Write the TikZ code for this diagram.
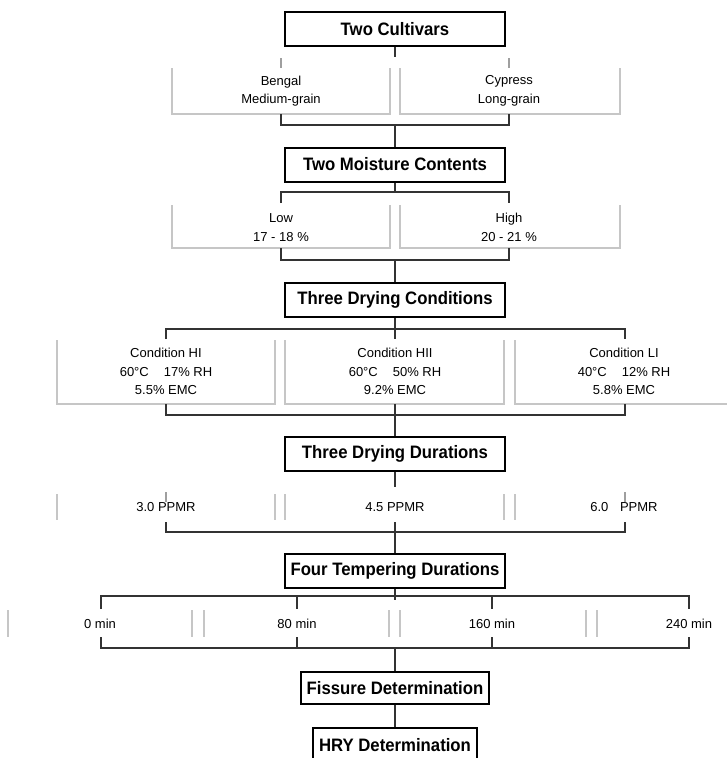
\documentclass[tikz,border=0pt]{standalone}
\usepackage{fontspec}
\setmainfont{Liberation Sans}
\newfontfamily\tfont[FakeStretch=0.93]{Liberation Sans Bold}
\begin{document}
\begin{tikzpicture}[x=1pt,y=-1pt,
  title/.style={draw=black, line width=2pt, minimum width=220pt, minimum height=34pt, inner sep=0pt, font=\tfont\fontsize{18}{20}\selectfont},
  titlethin/.style={title, line width=1.2pt},
  lbl/.style={align=center, inner sep=0pt, font=\fontsize{13}{18.5}\selectfont},
  graybox/.style={draw=gray!45, line width=1.3pt},
  conn/.style={draw=black!80, line width=1.3pt},
  tickl/.style={draw=gray!75, line width=1.2pt}]
\useasboundingbox (0,0) rectangle (727,758);

% ---------- Level 1: cultivars ----------
\node[title] (tc) at (395,29) {Two Cultivars};
\draw[graybox] (172,68) -- (172,114) -- (390,114) -- (390,68);
\draw[graybox] (400,68) -- (400,114) -- (620,114) -- (620,68);
\node[lbl] (bengal) at (281,91) {Bengal\\Medium-grain};
\node[lbl] (cypress) at (509,91) {Cypress\\Long-grain};
\coordinate (c1) at (395,57);
\coordinate (t1a) at (281,58); \coordinate (t1b) at (281,68);
\coordinate (t1c) at (509,58); \coordinate (t1d) at (509,68);
\draw[conn] (tc.south) -- (c1);
\draw[tickl] (t1a) -- (t1b);
\draw[tickl] (t1c) -- (t1d);
\coordinate (b1l) at (281,114); \coordinate (b1r) at (509,114); \coordinate (b1c) at (395,125);
\draw[conn] (b1l) -- (281,125) -- (509,125) -- (b1r);

% ---------- Level 2: moisture ----------
\node[title] (tm) at (395,164.5) {Two Moisture Contents};
\draw[conn] (b1c) -- (tm.north);
\coordinate (c2) at (395,192);
\draw[conn] (tm.south) -- (c2);
\draw[conn] (281,203) -- (281,192) -- (509,192) -- (509,203);
\draw[graybox] (172,205) -- (172,248) -- (390,248) -- (390,205);
\draw[graybox] (400,205) -- (400,248) -- (620,248) -- (620,205);
\node[lbl] (low) at (281,227.5) {Low\\17 - 18 \%};
\node[lbl] (high) at (509,227.5) {High\\20 - 21 \%};
\coordinate (b2c) at (395,260);
\draw[conn] (281,248) -- (281,260) -- (509,260) -- (509,248);

% ---------- Level 3: drying conditions ----------
\node[title] (tdc) at (395,300) {Three Drying Conditions};
\draw[conn] (b2c) -- (tdc.north);
\coordinate (c3) at (395,339);
\draw[conn] (tdc.south) -- (c3);
\draw[conn] (166,339) -- (166,329) -- (625,329) -- (625,339);
\draw[graybox] (57,340) -- (57,404) -- (275,404) -- (275,340);
\draw[graybox] (285,340) -- (285,404) -- (504,404) -- (504,340);
\draw[graybox] (515,340) -- (515,404) -- (740,404);
\node[lbl] (chi) at (166,371.5) {Condition HI\\60°C\hspace{15pt}17\% RH\\5.5\% EMC};
\node[lbl] (chii) at (395,371.5) {Condition HII\\60°C\hspace{15pt}50\% RH\\9.2\% EMC};
\node[lbl] (cli) at (624,371.5) {Condition LI\\40°C\hspace{15pt}12\% RH\\5.8\% EMC};
\coordinate (b3c) at (395,404);
\draw[conn] (166,404) -- (166,415) -- (625,415) -- (625,404);

% ---------- Level 4: drying durations ----------
\node[title] (tdd) at (395,454) {Three Drying Durations};
\draw[conn] (b3c) -- (tdd.north);
\coordinate (c4) at (395,487);
\draw[conn] (tdd.south) -- (c4);
\draw[tickl] (166,492) -- (166,502);
\draw[tickl] (625,492) -- (625,502);
\foreach \xx in {57,275,285,504,515}
  \draw[graybox] (\xx,494) -- (\xx,520);
\node[lbl] (p30) at (166,507) {3.0 PPMR};
\node[lbl] (p45) at (395,507) {4.5 PPMR};
\node[lbl] (p60) at (624,507) {6.0\hspace{8pt} PPMR};
\coordinate (b4c) at (395,522);
\draw[conn] (166,522) -- (166,532) -- (625,532) -- (625,522);

% ---------- Level 5: tempering ----------
\node[titlethin] (ttd) at (395,571) {Four Tempering Durations};
\draw[conn] (b4c) -- (ttd.north);
\coordinate (c5) at (395,600);
\draw[conn] (ttd.south) -- (c5);
\draw[conn] (101,609) -- (101,596) -- (689,596) -- (689,609);
\draw[conn] (297,596) -- (297,609);
\draw[conn] (492,596) -- (492,609);
\foreach \xx in {8,192,204,389,400,586,597}
  \draw[graybox] (\xx,610) -- (\xx,637);
\node[lbl] (m0) at (100,624) {0 min};
\node[lbl] (m80) at (297,624) {80 min};
\node[lbl] (m160) at (492,624) {160 min};
\node[lbl] (m240) at (689,624) {240 min};
\coordinate (b5c) at (395,648);
\draw[conn] (101,637) -- (101,648) -- (689,648) -- (689,637);
\draw[conn] (297,637) -- (297,648);
\draw[conn] (492,637) -- (492,648);

% ---------- Level 6: determinations ----------
\node[titlethin, minimum width=188pt, minimum height=32pt] (fd) at (395,688) {Fissure Determination};
\draw[conn] (b5c) -- (fd.north);
\node[titlethin, minimum width=164pt, minimum height=34pt] (hry) at (395,745) {HRY Determination};
\draw[conn] (fd.south) -- (hry.north);
\end{tikzpicture}
\end{document}
